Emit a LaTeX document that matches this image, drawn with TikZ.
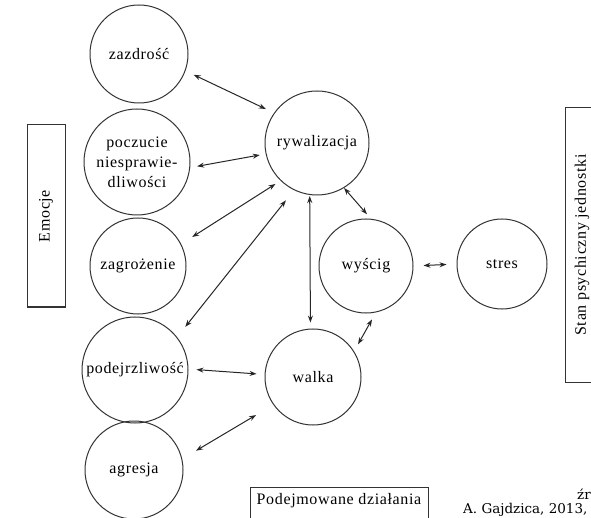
\documentclass[tikz,border=0pt]{standalone}
\usepackage{fontspec}
\setmainfont{Liberation Serif}[LetterSpace=4]
\newfontfamily\capfont{DejaVu Serif}
\usetikzlibrary{arrows.meta}

\begin{document}
\begin{tikzpicture}[
  x=1pt, y=-1pt,
  emo/.style={draw=black!80,line width=1pt,circle,inner sep=0pt,align=center,font=\fontsize{16}{20}\selectfont},
  side/.style={draw=black!80,line width=1pt,inner sep=0pt,font=\fontsize{16}{20}\selectfont},
  link/.style={{Stealth[length=7pt,width=5pt]}-{Stealth[length=7pt,width=5pt]},line width=1pt,black!85}
]
\clip (0,0) rectangle (591,518);

% left column: emotions
\node[emo, minimum size=98pt] (zazd) at (139,54) {zazdrość};
\node[emo, minimum size=106pt] (pocz) at (137,162) {poczucie\\niesprawie-\\dliwości};
\node[emo, minimum size=96pt] (zagr) at (138,266) {zagrożenie};
\node[emo, minimum size=106pt] (podej) at (135,370) {podejrzliwość};
\node[emo, minimum size=98pt] (agres) at (134,470) {agresja};

% middle and right
\node[emo, minimum size=104pt] (ryw) at (317,143) {rywalizacja};
\node[emo, minimum size=96pt] (walka) at (313,377) {walka};
\node[emo, minimum size=94pt] (wyscig) at (366,266) {wyścig};
\node[emo, minimum size=90pt] (stres) at (502,264) {stres};

% frames
\node[side, rotate=90, minimum width=182pt, minimum height=38pt] (emocje) at (46,216) {Emocje};
\node[side, rotate=90, minimum width=275pt, minimum height=34pt] (stan) at (582,245) {Stan psychiczny jednostki};
\node[side, anchor=north, minimum width=178pt, inner ysep=6pt, text depth=22pt] (dzial) at (339,487) {Podejmowane działania};

% source note
\node[anchor=base west, inner sep=0pt, font=\capfont\fontsize{13.5}{16}\selectfont] (src1) at (577,499) {źr};
\node[anchor=base west, inner sep=0pt, font=\capfont\fontsize{13.5}{16}\selectfont] (src2) at (463,513) {A. Gajdzica, 2013,};

\draw[link, shorten <=9pt, shorten >=9pt] (zazd.-20) -- (ryw.145);
\draw[link, shorten <=7pt, shorten >=6pt] (pocz.-6) -- (ryw.-168);
\draw[link, shorten <=13pt, shorten >=6pt] (zagr.27) -- (ryw.-134);
\draw[link, shorten <=13pt, shorten >=13pt] (podej.38) -- (ryw.-116);
\draw[link, shorten <=8pt, shorten >=8pt] (podej.1) -- (walka.177);
\draw[link, shorten <=16pt, shorten >=20pt] (agres.13) -- (walka.-145);
\draw[link, shorten <=1pt, shorten >=6pt] (ryw.-98) -- (walka.93);
\draw[link, shorten >=6pt] (ryw.-59) -- (wyscig.84);
\draw[link, shorten <=8pt, shorten >=8pt] (wyscig.-78) -- (walka.32);
\draw[link, shorten <=10pt, shorten >=10pt] (wyscig.0) -- (stres.180);
\end{tikzpicture}
\end{document}
